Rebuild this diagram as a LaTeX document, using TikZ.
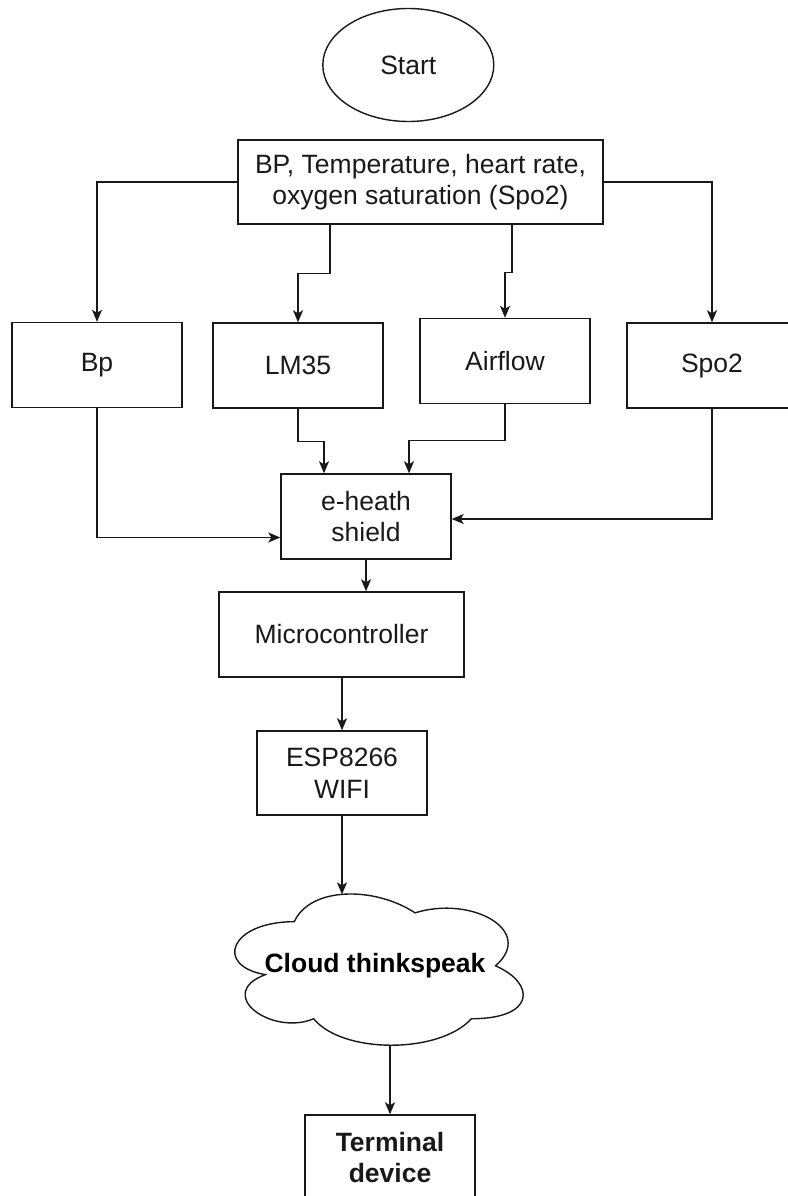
\documentclass[tikz,border=0pt]{standalone}
\usepackage{fontspec}
\setmainfont{Liberation Sans}
\usetikzlibrary{arrows.meta,shapes.geometric,calc}

\tikzset{
  base/.style={draw=black!90, line width=1.4pt, font=\fontsize{26.5}{31.5}\selectfont,
    align=center, inner sep=0pt, text=black!90},
  block/.style={base, rectangle, minimum width=170pt, minimum height=85pt},
  oval/.style={base, ellipse, minimum width=171pt, minimum height=113pt},
  arr/.style={draw=black!90, line width=1.4pt,
    -{Stealth[length=12pt,width=10pt,inset=3pt]}},
  cloudline/.style={draw=black!90, line width=1.4pt},
  boldtext/.style={font=\fontsize{26.5}{31.5}\selectfont\bfseries}
}

\begin{document}
\begin{tikzpicture}[x=1pt, y=-1pt]
\useasboundingbox (0,0) rectangle (787,1196);

% start and the measured quantities
\node[oval] (start) at (408.3,65) {Start};
\node[block, minimum width=365pt, minimum height=84pt] (top) at (420.5,182)
  {BP, Temperature, heart rate,\\oxygen saturation (Spo2)};

% sensors
\node[block] (bp)      at (97,365)    {Bp};
\node[block] (lm35)    at (298,365.5) {LM35};
\node[block] (airflow) at (505,361)   {Airflow};
\node[block] (spo2)    at (712,365.5) {Spo2};

% processing chain
\node[block] (shield) at (366,516.5) {e-heath\\shield};
\node[block, minimum width=245pt] (micro) at (341.5,634.5) {Microcontroller};
\node[block, minimum height=84pt] (esp) at (342,773) {ESP8266\\WIFI};

% cloud service
\node[boldtext, inner sep=0pt, minimum width=322pt, minimum height=176.5pt]
  (cloud) at (375,966) {Cloud thinkspeak};
\begin{scope}[shift={(cloud.north west)}, x=322pt, y=-176.5pt]
  \path[cloudline] (0.25,0.25)
    .. controls (0.05,0.25) and (0,0.5) .. (0.16,0.55)
    .. controls (0,0.66) and (0.18,0.9) .. (0.31,0.8)
    .. controls (0.4,1) and (0.7,1) .. (0.8,0.8)
    .. controls (1,0.8) and (1,0.6) .. (0.875,0.5)
    .. controls (1,0.3) and (0.8,0.1) .. (0.625,0.2)
    .. controls (0.5,0.05) and (0.3,0.05) .. (0.25,0.25) -- cycle;
  \path (0.625,0.2) .. controls (0.5,0.05) and (0.3,0.05) .. (0.25,0.25)
    coordinate[pos=0.53] (cloudin);
  \path (0.31,0.8) .. controls (0.4,1) and (0.7,1) .. (0.8,0.8)
    coordinate[pos=0.495] (cloudout);
\end{scope}

\node[block, boldtext, minimum height=85pt] (term) at (390,1157.5) {Terminal\\device};

% connectors from the measurement box to the sensors
\draw[arr] (top.west) -| (bp.north);
\draw[arr] (top.east) -| (spo2.north);
\draw[arr] ([xshift=32pt]top.south -| lm35.north) -- ++(0,49) -| (lm35.north);
\draw[arr] ([xshift=7pt]top.south -| airflow.north) -- ++(0,48) -| (airflow.north);

% sensors into the shield
\draw[arr] (bp.south) |- ([yshift=-21pt]shield.west);
\draw[arr] (spo2.south) |- ([yshift=-2.5pt]shield.east);
\draw[arr] (lm35.south) -- ++(0,33) -| ([xshift=-42pt]shield.north);
\draw[arr] (airflow.south) -- ++(0,36) -| ([xshift=43pt]shield.north);

% down the chain
\draw[arr] (shield.south) -- (shield.south |- micro.north);
\draw[arr] (micro.south -| esp.north) -- (esp.north);
\draw[arr] (esp.south) -- (esp.south |- cloudin);
\draw[arr] (term.north |- cloudout) -- (term.north);
\end{tikzpicture}
\end{document}
